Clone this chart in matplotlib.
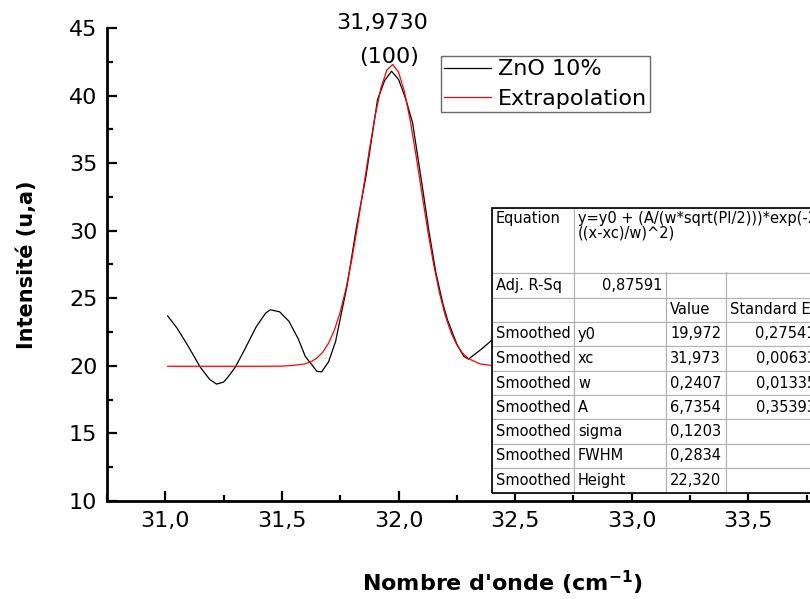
import matplotlib
matplotlib.use("Agg")
from matplotlib import pyplot as plt
from matplotlib.ticker import MultipleLocator

# measured curve (ZnO 10%), smoothed
zno_x = [31.01, 31.05, 31.10, 31.15, 31.19, 31.22, 31.25, 31.27, 31.30, 31.34,
         31.39, 31.43, 31.45, 31.49, 31.53, 31.57, 31.60, 31.65, 31.67, 31.70,
         31.73, 31.78, 31.82, 31.86, 31.91, 31.94, 31.97, 32.00, 32.03, 32.06,
         32.10, 32.13, 32.16, 32.19, 32.21, 32.25, 32.28, 32.30, 32.33, 32.36,
         32.40, 32.44]
zno_y = [23.7, 22.8, 21.4, 19.9, 19.0, 18.65, 18.8, 19.2, 19.9, 21.2,
         22.9, 23.9, 24.15, 24.0, 23.3, 22.0, 20.7, 19.6, 19.55, 20.3,
         21.8, 26.0, 30.3, 34.0, 39.7, 41.1, 41.8, 41.2, 39.8, 38.0,
         33.5, 30.0, 26.9, 24.6, 23.4, 21.6, 20.7, 20.5, 20.9, 21.3,
         21.9, 22.6]

# fitted gaussian as drawn in red
fit_x = [31.01, 31.20, 31.40, 31.50, 31.55, 31.60, 31.625, 31.65, 31.675, 31.70,
         31.725, 31.75, 31.775, 31.80, 31.825, 31.85, 31.875, 31.90, 31.925, 31.95,
         31.975, 32.00, 32.025, 32.05, 32.075, 32.10, 32.125, 32.15, 32.175, 32.20,
         32.225, 32.25, 32.275, 32.30, 32.35, 32.40]
fit_y = [19.97, 19.97, 19.97, 19.98, 20.04, 20.15, 20.31, 20.58, 21.01, 21.68,
         22.65, 23.99, 25.74, 27.92, 30.46, 33.22, 36.0, 38.55, 40.6, 41.89,
         42.3, 41.74, 40.3, 38.17, 35.56, 32.77, 30.03, 27.55, 25.43, 23.74,
         22.46, 21.55, 20.93, 20.53, 20.14, 20.03]

x_ticks = [31.0, 31.5, 32.0, 32.5, 33.0, 33.5]
x_tick_labels = ["31,0", "31,5", "32,0", "32,5", "33,0", "33,5"]
y_ticks = [10, 15, 20, 25, 30, 35, 40, 45]

# fit report table
table_rows = [
    ["Equation", "y=y0 + (A/(w*sqrt(PI/2)))*exp(-2*\n((x-xc)/w)^2)", "", ""],
    ["Adj. R-Sq", "0,87591", "", ""],
    ["", "", "Value", "Standard Error"],
    ["Smoothed", "y0", "19,972", "0,27541"],
    ["Smoothed", "xc", "31,973", "0,00633"],
    ["Smoothed", "w", "0,2407", "0,01335"],
    ["Smoothed", "A", "6,7354", "0,35393"],
    ["Smoothed", "sigma", "0,1203", ""],
    ["Smoothed", "FWHM", "0,2834", ""],
    ["Smoothed", "Height", "22,320", ""],
]

fig = plt.figure(figsize=(8.1, 5.99), dpi=100)
ax = fig.add_axes([107/810, 98/599, 758/810, 473/599])

ax.plot(zno_x, zno_y, color="black", lw=0.9, label="ZnO 10%")
ax.plot(fit_x, fit_y, color="red", lw=0.9, label="Extrapolation")

ax.set_xlim(30.75, 34.0)
ax.set_ylim(10, 45)
ax.set_xticks(x_ticks)
ax.set_xticklabels(x_tick_labels)
ax.set_yticks(y_ticks)
ax.xaxis.set_minor_locator(MultipleLocator(0.25))
ax.yaxis.set_minor_locator(MultipleLocator(2.5))
ax.tick_params(which="major", direction="in", length=7, width=1.6, labelsize=16, pad=7)
ax.tick_params(which="minor", direction="in", length=4, width=1.6)
for s in ["top", "right"]:
    ax.spines[s].set_visible(False)
for s in ["left", "bottom"]:
    ax.spines[s].set_linewidth(2)

ax.set_ylabel("Intensité (u,a)", fontsize=15, fontweight="bold", labelpad=23)
fig.text(0.62, 0.003, "Nombre d'onde (cm$^{\\mathbf{-1}}$)", fontsize=16,
         fontweight="bold", ha="center", va="bottom")

ax.text(31.93, 44.6, "31,9730", fontsize=16, ha="center", va="bottom", clip_on=False)
ax.text(31.96, 42.1, "(100)", fontsize=16, ha="center", va="bottom", clip_on=False)

leg = ax.legend(loc="upper left", bbox_to_anchor=((441 - 107) / 758, 1 - 28 / 473),
                fontsize=16, frameon=True, fancybox=False, edgecolor="#444444",
                borderpad=0.15, handlelength=2.1, handletextpad=0.3, labelspacing=0.42,
                borderaxespad=0)
leg.get_frame().set_linewidth(1.0)

# table drawn in pixel coordinates of the figure
col_edges = [492, 574, 666, 726, 820]
row_edges = [208, 273, 298, 322, 346, 371, 395, 419, 444, 468, 493]
W, H = 810.0, 599.0
for r, row in enumerate(table_rows):
    y0, y1 = row_edges[r], row_edges[r + 1]
    for c, txt in enumerate(row):
        x0, x1 = col_edges[c], col_edges[c + 1]
        rect = plt.Rectangle((x0 / W, 1 - y1 / H), (x1 - x0) / W, (y1 - y0) / H,
                             transform=fig.transFigure, facecolor="white",
                             edgecolor="#b0b0b0", lw=0.8, zorder=5)
        fig.add_artist(rect)
    for c, txt in enumerate(row):
        if not txt:
            continue
        x0, x1 = col_edges[c], col_edges[c + 1]
        right = (r == 1 and c == 1) or (r >= 3 and c == 3)
        tx = (x1 - 4) if right else (x0 + 4)
        if r == 0:
            ty, va = y0 + 3, "top"
        else:
            ty, va = (y0 + y1) / 2, "center"
        fig.text(tx / W, 1 - ty / H, txt, fontsize=10.5, ha="right" if right else "left",
                 va=va, zorder=6, linespacing=0.95)
# merge look of equation row: cover inner borders
fig.add_artist(plt.Rectangle((575 / W, 1 - 272 / H), 240 / W, 63 / H,
                             transform=fig.transFigure, facecolor="white",
                             edgecolor="none", zorder=5.5))
fig.add_artist(plt.Rectangle((492 / W, 1 - 493 / H), 330 / W, 285 / H,
                             transform=fig.transFigure, facecolor="none",
                             edgecolor="black", lw=1.2, zorder=7))

fig.savefig("out.png", dpi=100)
